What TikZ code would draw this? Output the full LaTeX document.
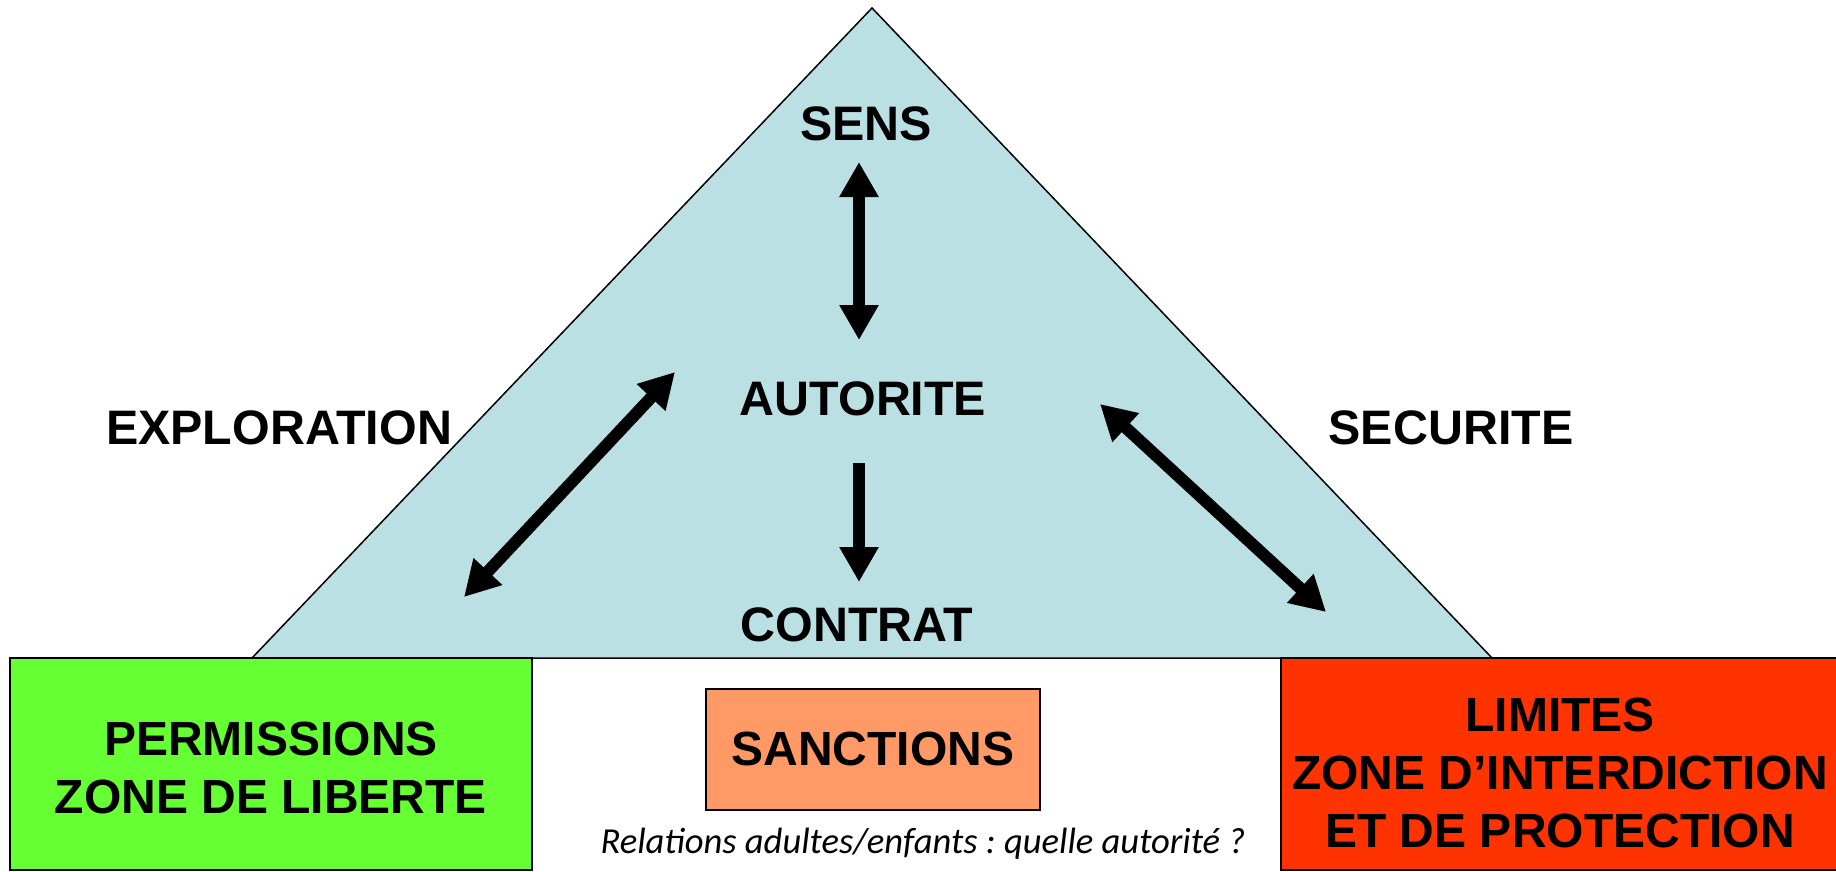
\documentclass[tikz,border=0pt]{standalone}
\usepackage{fontspec}
\setmainfont{Liberation Sans}
\newfontfamily\notefont{Carlito}
\usetikzlibrary{arrows.meta, positioning}
\definecolor{triblue}{RGB}{187,224,227}
\definecolor{zonegreen}{RGB}{102,255,51}
\definecolor{zonered}{RGB}{255,51,0}
\definecolor{zoneorange}{RGB}{255,153,102}
\frenchspacing
\tikzset{
  tri/.style={draw=black, line width=1.5pt, fill=triblue, line join=miter},
  zone/.style={draw=black, line width=2.5pt, inner sep=0pt},
  zonetext/.style={align=center, inner sep=0pt, font=\fontsize{48}{58}\selectfont\bfseries},
  lbl/.style={anchor=base, inner sep=0pt, font=\fontsize{48.4}{56}\selectfont\bfseries},
  bigarrow/.style={line width=12pt, -{Triangle[length=35pt,width=37pt]}},
  dblarrow/.style={line width=12pt, {Triangle[length=35pt,width=37pt]}-{Triangle[length=35pt,width=37pt]}}
}

\begin{document}
\begin{tikzpicture}[x=1pt, y=-1pt]
    \useasboundingbox (0,0) rectangle (1836,872);
    % triangle
    \coordinate (apex) at (872,8);
    \coordinate (base-l) at (252,658);
    \coordinate (base-r) at (1492,658);
    \draw[tri] (apex) -- (base-l) -- (base-r) -- cycle;

    % labels
    \node[lbl] (sens) at (866,141) {SENS};
    \node[lbl] (autorite) at (863,415) {AUTORITE};
    \node[lbl] (contrat) at (857,641) {CONTRAT};
    \node[lbl] (exploration) at (279,444) {EXPLORATION};
    \node[lbl] (securite) at (1451,444) {SECURITE};

    % zones
    \node[zone, fill=zonegreen, minimum width=522pt, minimum height=212pt] (permissions) at (271,764) {};
    \node[zonetext] (permissions-t) at ([yshift=-4pt]permissions.center) {PERMISSIONS\\ZONE DE LIBERTE};
    \node[zone, fill=zonered, minimum width=558pt, minimum height=212pt] (limites) at (1560,764) {};
    \node[zonetext] (limites-t) at ([yshift=-9pt]limites.center) {LIMITES\\ZONE D’INTERDICTION\\ET DE PROTECTION};
    \node[zone, line width=2pt, fill=zoneorange, minimum width=334pt, minimum height=121pt] (sanctions) at (873,749) {};
    \node[zonetext] (sanctions-t) at (sanctions.center) {SANCTIONS};
    \node[anchor=base, inner sep=0pt, font=\notefont\itshape\fontsize{36.6}{40}\selectfont] (titre) at (923,853)
      {Relations adultes/enfants : quelle autorité ?};

    % arrow ends
    \coordinate (sens-a) at (859,162);
    \coordinate (autorite-n) at (859,340);
    \coordinate (autorite-s) at (859,463);
    \coordinate (contrat-a) at (859,582);
    \coordinate (autorite-w) at (675,372);
    \coordinate (exploration-a) at (464,597);
    \coordinate (autorite-e) at (1100,404);
    \coordinate (securite-a) at (1326,612);

    \draw[dblarrow] (sens-a) -- (autorite-n);
    \draw[bigarrow] (autorite-s) -- (contrat-a);
    \draw[dblarrow] (autorite-w) -- (exploration-a);
    \draw[dblarrow] (autorite-e) -- (securite-a);
\end{tikzpicture}
\end{document}
